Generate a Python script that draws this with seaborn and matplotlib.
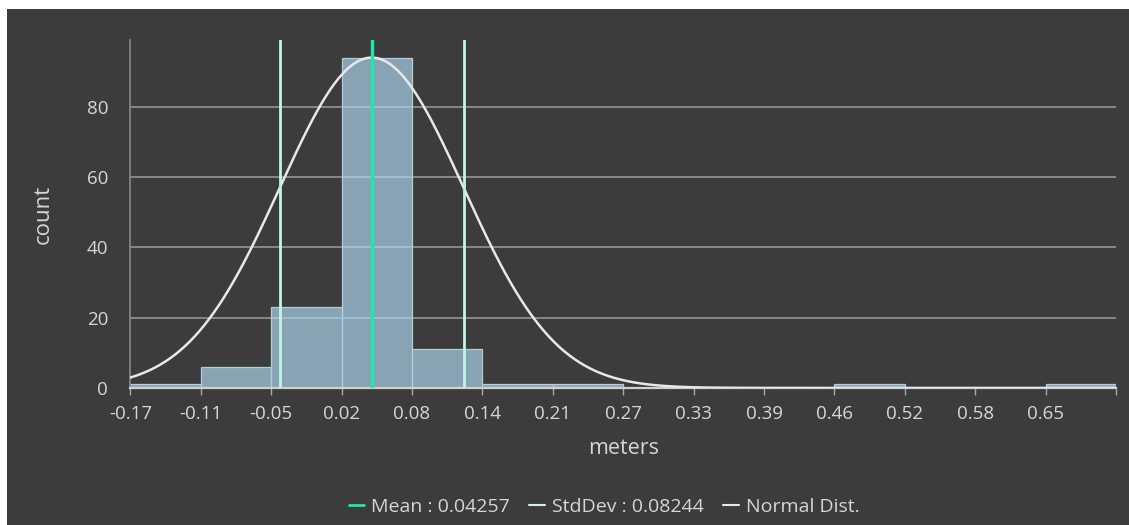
import numpy as np
import pandas as pd
import matplotlib
matplotlib.use("Agg")
import matplotlib.pyplot as plt
from matplotlib.patches import Rectangle
from matplotlib.lines import Line2D
import seaborn as sns

# ---- data ----
bin_start = -0.174
bin_width = 0.06318
counts = [1, 6, 23, 94, 11, 1, 1, 0, 0, 0, 1, 0, 0, 1]
tick_labels = ["-0.17", "-0.11", "-0.05", "0.02", "0.08", "0.14", "0.21",
               "0.27", "0.33", "0.39", "0.46", "0.52", "0.58", "0.65", ""]
mean_val = 0.04257
std_val = 0.08244
y_ticks = [0, 20, 40, 60, 80]

BG = "#3c3c3c"
TXT = "#d6d6d6"
FONT = ["Open Sans", "DejaVu Sans"]

sns.set_theme(style="dark")
plt.rcParams["font.family"] = FONT

edges = [bin_start + bin_width * i for i in range(len(counts) + 1)]
centers = [(edges[i] + edges[i + 1]) / 2 for i in range(len(counts))]
df = pd.DataFrame({"x": centers, "count": counts})

fig = plt.figure(figsize=(11.29, 5.25), dpi=100, facecolor="white")
fig.patches.append(Rectangle((7 / 1129, 0), 1, 1 - 9 / 525, transform=fig.transFigure,
                             facecolor=BG, edgecolor="none", zorder=-10))
ax = fig.add_axes([130.4 / 1129, 1 - 388 / 525, (1116 - 130.4) / 1129, (388 - 40) / 525])
ax.set_facecolor(BG)

sns.histplot(data=df, x="x", weights="count", bins=edges, ax=ax,
             color="#b2dcf5", alpha=0.65, edgecolor="#b4ccd8", linewidth=0.9, zorder=2)

# normal distribution curve scaled to the highest bin
xs = np.linspace(edges[0], edges[-1], 600)
ys = max(counts) * np.exp(-0.5 * ((xs - mean_val) / std_val) ** 2)
sns.lineplot(x=xs, y=ys, ax=ax, color="#e8e8e8", linewidth=1.8, zorder=4)

ax.axvline(mean_val, color="#22e6b0", linewidth=2.4, zorder=5)
ax.axvline(mean_val - std_val, color="#c2f4e2", linewidth=2.0, zorder=5)
ax.axvline(mean_val + std_val, color="#c2f4e2", linewidth=2.0, zorder=5)

ax.set_ylim(0, 99)
ax.set_xlim(edges[0], edges[-1])
ax.set_yticks(y_ticks)
ax.yaxis.grid(True, color="#9c9c9c", linewidth=1.1, zorder=0)
ax.xaxis.grid(False)
ax.set_axisbelow(True)

ax.set_xticks(edges)
ax.set_xticklabels(tick_labels)
ax.tick_params(axis="x", colors="#a8a8a8", length=5, width=1, labelcolor=TXT,
               labelsize=13.5, pad=7, direction="out", bottom=True)
ax.tick_params(axis="y", length=0, labelcolor=TXT, labelsize=13.5, pad=16)

for s in ["top", "right"]:
    ax.spines[s].set_visible(False)
ax.spines["left"].set_color("#8a8a8a")
ax.spines["left"].set_linewidth(1.2)
ax.spines["bottom"].set_color("#d0d0d0")
ax.spines["bottom"].set_linewidth(1.6)
ax.spines["bottom"].set_zorder(3)

ax.set_xlabel("meters", color=TXT, fontsize=15.5, labelpad=11)
ax.set_ylabel("count", color=TXT, fontsize=16, labelpad=24)

handles = [Line2D([], [], color="#22e6b0", linewidth=2),
           Line2D([], [], color="#d8f0e8", linewidth=1.5),
           Line2D([], [], color="#e8e8e8", linewidth=1.5)]
labels = [f"Mean : {mean_val}", f"StdDev : {std_val}", "Normal Dist."]
leg = fig.legend(handles, labels, loc="center", bbox_to_anchor=(0.535, 0.034), ncol=3,
                 frameon=False, handlelength=0.8, handletextpad=0.35, columnspacing=1.0,
                 fontsize=14)
for t in leg.get_texts():
    t.set_color(TXT)

fig.savefig("out.png", dpi=100, facecolor=fig.get_facecolor())
